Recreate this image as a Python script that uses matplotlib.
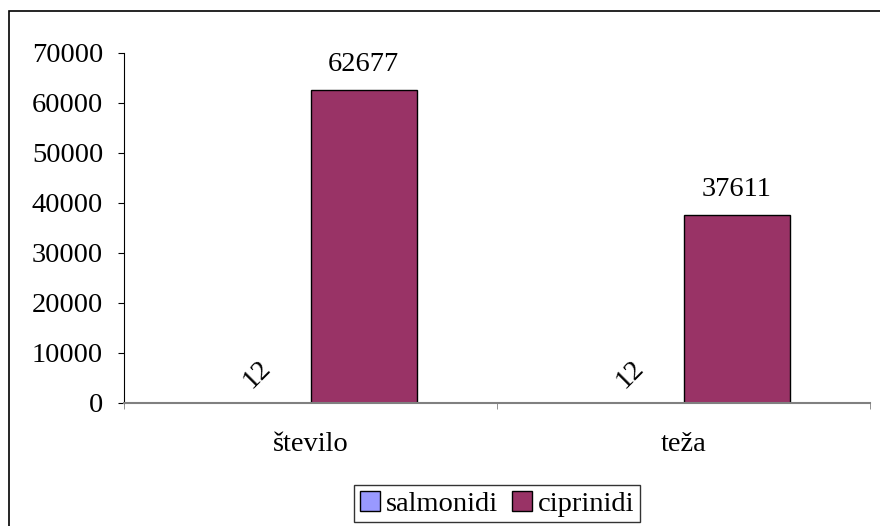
import matplotlib
matplotlib.use('Agg')
import matplotlib.pyplot as plt
from matplotlib.patches import Rectangle
import numpy as np

categories = ['število', 'teža']
salmonidi = [12, 12]
ciprinidi = [62677, 37611]
series_names = ['salmonidi', 'ciprinidi']
series_colors = ['#9999FF', '#993366']
yticks = [0, 10000, 20000, 30000, 40000, 50000, 60000, 70000]

plt.rcParams['font.family'] = ['Liberation Serif', 'DejaVu Serif']
FS = 20.5

fig = plt.figure(figsize=(8.8, 5.26), dpi=100)
# outer chart border
fig.patches.append(Rectangle((9 / 880, -0.1), 1.2, 1 - 11 / 526 + 0.1,
                             transform=fig.transFigure, fill=False,
                             edgecolor='black', linewidth=1.2))

ax = fig.add_axes([124 / 880, 1 - 403 / 526, (870 - 124) / 880, (403 - 53) / 526])

x = np.arange(len(categories))
w = 106 / 372
b1 = ax.bar(x - w / 2, salmonidi, w, color=series_colors[0], edgecolor='black',
            linewidth=1, label=series_names[0])
b2 = ax.bar(x + w / 2, ciprinidi, w, color=series_colors[1], edgecolor='black',
            linewidth=1, label=series_names[1])

for rect, v in zip(b1, salmonidi):
    ax.annotate(str(v), (rect.get_x() + rect.get_width() / 2, v),
                xytext=(0, 7), textcoords='offset points', ha='center',
                va='bottom', rotation=45, fontsize=FS)
for rect, v in zip(b2, ciprinidi):
    ax.annotate(str(v), (rect.get_x() + rect.get_width() / 2, v),
                xytext=(0, 9), textcoords='offset points', ha='center',
                va='bottom', fontsize=FS)

ax.set_xlim(-0.5, len(categories) - 0.5)
ax.set_ylim(0, 70000)
ax.set_yticks(yticks)
ax.set_yticklabels([str(t) for t in yticks], fontsize=FS)
ax.set_xticks(x)
ax.set_xticklabels(categories, fontsize=FS)
ax.set_xticks(np.arange(len(categories) + 1) - 0.5, minor=True)
ax.tick_params(axis='x', which='major', length=0, pad=21)
ax.tick_params(axis='x', which='minor', length=4, direction='out', color='#808080')
ax.tick_params(axis='y', length=4, direction='out', pad=11)

ax.spines['top'].set_visible(False)
ax.spines['right'].set_visible(False)
ax.spines['bottom'].set_color('#808080')
ax.spines['bottom'].set_linewidth(1.5)
ax.spines['left'].set_color('black')

leg = fig.legend(loc='upper center', bbox_to_anchor=(497 / 880, 1 - 485 / 526),
                 ncol=2, fontsize=FS, frameon=True, fancybox=False,
                 edgecolor='black', handlelength=0.7, handleheight=0.7,
                 handletextpad=0.2, columnspacing=0.5, borderpad=0.2,
                 borderaxespad=0)
leg.get_frame().set_linewidth(1)

fig.savefig('out.png', dpi=100)
